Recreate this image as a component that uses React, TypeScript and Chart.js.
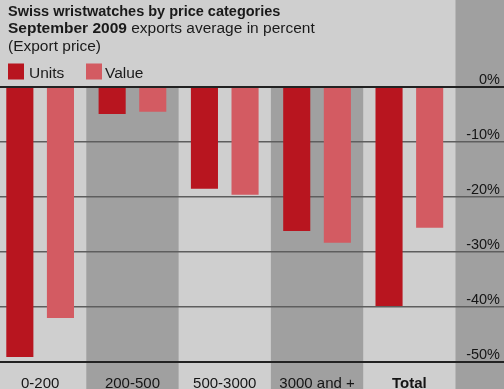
import React, { useEffect, useRef } from "react";
import { Chart, registerables } from "chart.js";

Chart.register(...registerables);

const categories = ["0-200", "200-500", "500-3000", "3000 and +", "Total"];
const unitsValues = [-49.1, -4.9, -18.5, -26.2, -39.8];
const valueValues = [-42.0, -4.5, -19.6, -28.3, -25.6];
const yTicks = [0, -10, -20, -30, -40, -50];
const seriesNames = ["Units", "Value"];
const titleLine1 = "Swiss wristwatches by price categories";
const titleLine2Bold = "September 2009";
const titleLine2Rest = " exports average in percent";
const titleLine3 = "(Export price)";

const FONT = "'Liberation Sans', Arial, sans-serif";
const UNITS_COLOR = "#b8151f";
const VALUE_COLOR = "#d35b62";
const BG = "#cfcfcf";
const STRIPE = "#a0a0a0";
const SHIFT = 6; // canvas is shifted left by this many px

const bgPlugin = {
  id: "bgStripes",
  beforeDraw(chart: any) {
    const { ctx, chartArea, width, height } = chart;
    const xs = chart.scales.x;
    ctx.save();
    ctx.fillStyle = BG;
    ctx.fillRect(0, 0, width, height);
    ctx.fillStyle = STRIPE;
    ctx.fillRect(chartArea.right, 0, width - chartArea.right, height);
    const half = (xs.right - xs.left) / categories.length / 2;
    categories.forEach((_, i) => {
      if (i % 2 === 1) {
        const c = xs.getPixelForValue(i);
        ctx.fillRect(c - half, chartArea.top, half * 2, height - chartArea.top);
      }
    });
    ctx.restore();
  },
};

const textPlugin = {
  id: "titleLegend",
  afterDraw(chart: any) {
    const { ctx } = chart;
    const x0 = 8 + SHIFT;
    ctx.save();
    ctx.fillStyle = "#1a1a1a";
    ctx.textBaseline = "alphabetic";
    ctx.textAlign = "left";
    ctx.font = `bold 14.5px ${FONT}`;
    ctx.fillText(titleLine1, x0, 15.5);
    ctx.font = `bold 15.5px ${FONT}`;
    ctx.fillText(titleLine2Bold, x0, 32.5);
    const w = ctx.measureText(titleLine2Bold).width;
    ctx.font = `15.5px ${FONT}`;
    ctx.fillText(titleLine2Rest, x0 + w, 32.5);
    ctx.fillText(titleLine3, x0, 51);
    const ds = chart.data.datasets;
    const items = [
      { x: 8, tx: 29 },
      { x: 86, tx: 105 },
    ];
    ds.forEach((d: any, i: number) => {
      const it = items[i];
      ctx.fillStyle = d.backgroundColor;
      ctx.fillRect(it.x + SHIFT, 63.5, 16, 16);
      ctx.fillStyle = "#1a1a1a";
      ctx.font = `15.5px ${FONT}`;
      ctx.fillText(d.label, it.tx + SHIFT, 77.5);
    });
    ctx.restore();
  },
};

export default function App() {
  const ref = useRef<HTMLCanvasElement | null>(null);

  useEffect(() => {
    if (!ref.current) return;
    const chart = new Chart(ref.current, {
      type: "bar",
      data: {
        labels: categories,
        datasets: [
          {
            label: seriesNames[0],
            data: unitsValues,
            backgroundColor: UNITS_COLOR,
            borderWidth: 0,
            categoryPercentage: 0.88,
            barPercentage: 0.667,
          },
          {
            label: seriesNames[1],
            data: valueValues,
            backgroundColor: VALUE_COLOR,
            borderWidth: 0,
            categoryPercentage: 0.88,
            barPercentage: 0.667,
          },
        ],
      },
      options: {
        responsive: false,
        animation: false,
        devicePixelRatio: 1,
        layout: { padding: { top: 87, left: 0, right: 4, bottom: 0 } },
        plugins: {
          legend: { display: false },
          title: { display: false },
          tooltip: { enabled: false },
        },
        scales: {
          x: {
            grid: { display: false, drawTicks: false },
            border: { display: false },
            ticks: {
              color: "#151515",
              padding: 13,
              maxRotation: 0,
              autoSkip: false,
              font: (ctx: any) => ({
                family: FONT,
                size: 15,
                weight: ctx.index === categories.length - 1 ? "bold" : "normal",
              }),
            },
            afterFit: (s: any) => {
              s.height = 27;
            },
          },
          y: {
            position: "right",
            min: -50,
            max: 0,
            afterBuildTicks: (s: any) => {
              s.ticks = yTicks.map((v) => ({ value: v }));
            },
            afterFit: (s: any) => {
              s.width = 44.5;
            },
            border: { display: false },
            grid: {
              drawTicks: true,
              tickLength: 48.5,
              color: (ctx: any) =>
                ctx.tick && (ctx.tick.value === 0 || ctx.tick.value === -50) ? "#222222" : "#5e5e5e",
              lineWidth: (ctx: any) =>
                ctx.tick && (ctx.tick.value === 0 || ctx.tick.value === -50) ? 2 : 1.5,
            },
            ticks: {
              crossAlign: "far",
              padding: 0,
              labelOffset: -7,
              color: "#151515",
              font: { family: FONT, size: 14.5 },
              callback: (v: any) => `${v}%`,
            },
          },
        },
      },
      plugins: [bgPlugin, textPlugin],
    });
    return () => chart.destroy();
  }, []);

  return (
    <div style={{ position: "fixed", left: 0, top: 0, width: 504, height: 389, overflow: "hidden" }}>
      <canvas
        ref={ref}
        width={504 + SHIFT}
        height={389}
        style={{ position: "absolute", left: -SHIFT, top: 0, width: 504 + SHIFT, height: 389 }}
      />
    </div>
  );
}
